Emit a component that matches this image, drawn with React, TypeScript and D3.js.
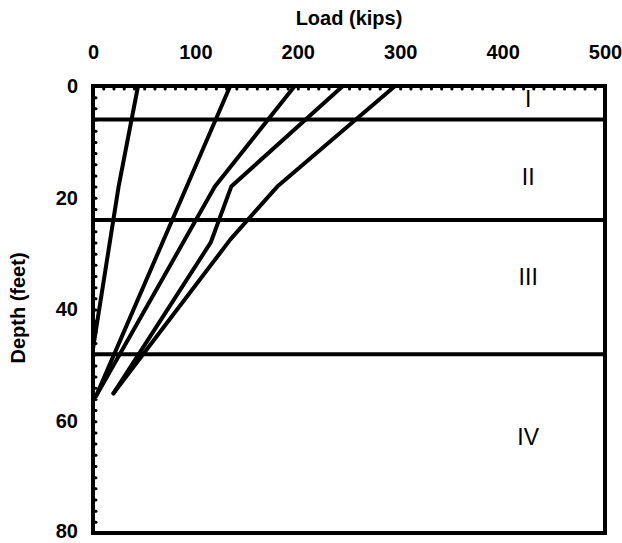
import React, { useEffect, useRef } from "react";
import * as d3 from "d3";

// Load transfer curves: depth (ft) and load (kips) for each test
const curve1Depth = [0, 18, 47];
const curve1Load = [44, 25, 0];
const curve2Depth = [0, 55.5];
const curve2Load = [134, 3];
const curve3Depth = [0, 18, 55.5];
const curve3Load = [197, 119, 3];
const curve4Depth = [0, 18, 28, 55];
const curve4Load = [244, 135, 115, 20];
const curve5Depth = [0, 18, 27.5, 55];
const curve5Load = [295, 180, 134, 20];

const layerBoundaries = [6, 24, 48];
const layerNames = ["I", "II", "III", "IV"];
const layerLabelDepths = [2.2, 16.2, 34.2, 62.8];
const layerLabelLoad = 425;

const xMajorTicks = [0, 100, 200, 300, 400, 500];
const yMajorTicks = [0, 20, 40, 60, 80];

const W = 622;
const H = 543;

export default function App() {
  const ref = useRef<SVGSVGElement | null>(null);

  useEffect(() => {
    const svg = d3.select(ref.current);
    svg.selectAll("*").remove();

    const x = d3.scaleLinear().domain([0, 500]).range([93, 605]);
    const y = d3.scaleLinear().domain([0, 80]).range([86, 533]);
    const font = "'Liberation Sans', Arial, Helvetica, sans-serif";

    // minor ticks top (every 10 kips, inward)
    const topMinor = svg.append("g").attr("transform", `translate(0,${y(0)})`)
      .call(d3.axisTop(x).tickValues(d3.range(0, 501, 10)).tickSize(-3).tickFormat(() => ""));
    topMinor.select(".domain").remove();
    topMinor.selectAll("line").attr("stroke", "#000").attr("stroke-width", 3).attr("stroke-linecap", "round");

    // minor ticks left (every 2 ft, inward)
    const leftMinor = svg.append("g").attr("transform", `translate(${x(0)},0)`)
      .call(d3.axisLeft(y).tickValues(d3.range(0, 81, 2)).tickSize(-3).tickFormat(() => ""));
    leftMinor.select(".domain").remove();
    leftMinor.selectAll("line").attr("stroke", "#000").attr("stroke-width", 3).attr("stroke-linecap", "round");

    // labels top
    const topLab = svg.append("g").attr("transform", `translate(0,${y(0)})`)
      .call(d3.axisTop(x).tickValues(xMajorTicks).tickSize(0).tickPadding(27).tickFormat(d3.format("d")));
    topLab.select(".domain").remove();
    topLab.selectAll("text").attr("font-family", font).attr("font-size", 20).attr("font-weight", "bold").attr("fill", "#000");

    const leftLab = svg.append("g").attr("transform", `translate(${x(0)},0)`)
      .call(d3.axisLeft(y).tickValues(yMajorTicks).tickSize(0).tickPadding(15).tickFormat(d3.format("d")));
    leftLab.select(".domain").remove();
    leftLab.selectAll("text").attr("font-family", font).attr("font-size", 20).attr("font-weight", "bold").attr("fill", "#000")
      .attr("dy", (d) => (d === 80 ? "0.2em" : "0.32em"));

    // layer boundaries
    svg.append("g").selectAll("line").data(layerBoundaries).join("line")
      .attr("x1", x(0)).attr("x2", x(500))
      .attr("y1", (d) => y(d)).attr("y2", (d) => y(d))
      .attr("stroke", "#000").attr("stroke-width", 4);

    // frame
    svg.append("rect")
      .attr("x", x(0)).attr("y", y(0))
      .attr("width", x(500) - x(0)).attr("height", y(80) - y(0))
      .attr("fill", "none").attr("stroke", "#000").attr("stroke-width", 4);

    // curves
    const curves = [
      [curve1Load, curve1Depth],
      [curve2Load, curve2Depth],
      [curve3Load, curve3Depth],
      [curve4Load, curve4Depth],
      [curve5Load, curve5Depth],
    ];
    const line = d3.line<[number, number]>().x((d) => x(d[0])).y((d) => y(d[1]));
    svg.append("g").selectAll("path").data(curves).join("path")
      .attr("d", (c) => line(c[0].map((v, i) => [v, c[1][i]] as [number, number])))
      .attr("fill", "none").attr("stroke", "#000").attr("stroke-width", 4)
      .attr("stroke-linejoin", "round").attr("stroke-linecap", "round");

    // layer labels
    svg.append("g").selectAll("text").data(layerNames).join("text")
      .attr("x", x(layerLabelLoad)).attr("y", (_d, i) => y(layerLabelDepths[i]))
      .attr("dy", "0.36em").attr("text-anchor", "middle")
      .attr("font-family", font).attr("font-size", 23).attr("fill", "#000")
      .text((d) => d);

    // axis titles
    svg.append("text").attr("x", (x(0) + x(500)) / 2).attr("y", 25)
      .attr("text-anchor", "middle").attr("font-family", font).attr("font-size", 20)
      .attr("font-weight", "bold").text("Load (kips)");
    svg.append("text").attr("transform", `translate(25,${308}) rotate(-90)`)
      .attr("text-anchor", "middle").attr("font-family", font).attr("font-size", 20)
      .attr("font-weight", "bold").text("Depth (feet)");
  }, []);

  return (
    <div style={{ position: "absolute", left: 0, top: 0 }}>
      <svg ref={ref} width={W} height={H} style={{ display: "block", background: "#fff" }} />
    </div>
  );
}
